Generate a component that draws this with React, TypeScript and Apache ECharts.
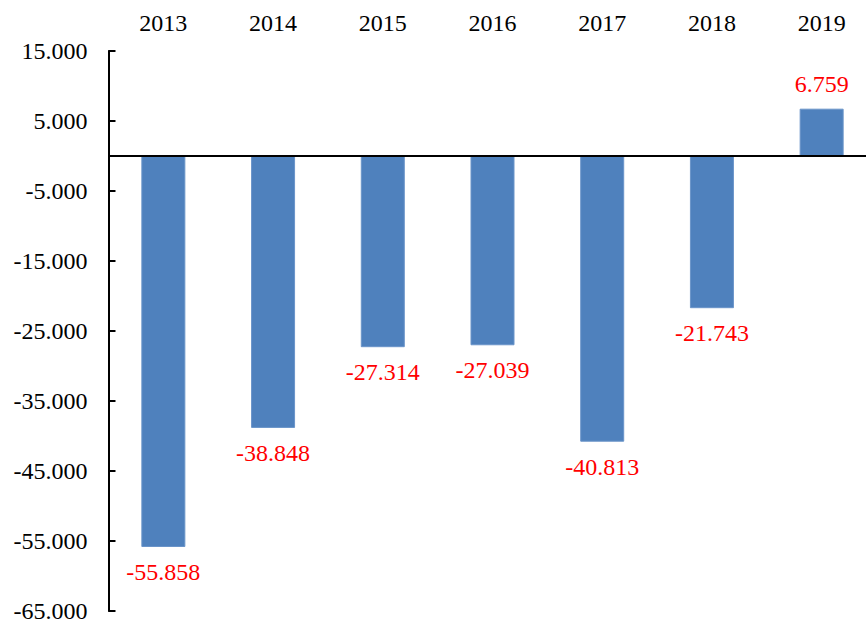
import React, { useEffect, useRef } from "react";
import * as echarts from "echarts";

const categories = ["2013", "2014", "2015", "2016", "2017", "2018", "2019"];
const values = [-55.858, -38.848, -27.314, -27.039, -40.813, -21.743, 6.759];
const yTicks = [-65, -55, -45, -35, -25, -15, -5, 5, 15];

const FONT = "Liberation Serif";

export default function App() {
  const ref = useRef<HTMLDivElement>(null);
  useEffect(() => {
    if (!ref.current) return;
    const chart = echarts.init(ref.current, undefined, { renderer: "svg" });
    chart.setOption({
      animation: false,
      backgroundColor: "#ffffff",
      grid: {
        left: 108.5,
        top: 51,
        width: 768,
        bottom: 13,
        containLabel: false,
        outerBoundsMode: "none",
      },
      xAxis: {
        type: "category",
        data: categories,
        position: "top",
        boundaryGap: true,
        axisLine: { show: false },
        axisTick: { show: false },
        splitLine: { show: false },
        axisLabel: { fontSize: 24, color: "#000", fontFamily: FONT, margin: 16 },
      },
      yAxis: {
        type: "value",
        min: -65,
        max: 15,
        splitLine: { show: false },
        axisLine: { show: true, onZero: false, lineStyle: { color: "#000", width: 2 } },
        axisTick: {
          show: true,
          inside: true,
          length: 7,
          customValues: yTicks,
          lineStyle: { color: "#000", width: 2 },
        },
        axisLabel: {
          customValues: yTicks,
          fontSize: 24,
          color: "#000",
          fontFamily: FONT,
          margin: 21,
          formatter: (v: number) => v.toFixed(3),
        },
      },
      series: [
        {
          type: "bar",
          data: values,
          barWidth: 44,
          itemStyle: { color: "#4F81BD", borderColor: "#6A94C9", borderWidth: 1 },
          label: {
            show: true,
            position: "outside",
            distance: 13,
            fontSize: 24,
            color: "#FF0000",
            fontFamily: FONT,
            formatter: (p: any) => Number(p.value).toFixed(3),
          },
          markLine: {
            silent: true,
            symbol: ["none", "none"],
            label: { show: false },
            lineStyle: { color: "#000", width: 2, type: "solid" },
            data: [{ yAxis: 0 }],
          },
        },
      ],
    });
    return () => chart.dispose();
  }, []);
  return (
    <div
      ref={ref}
      style={{ position: "fixed", left: 0, top: 0, width: 866, height: 624 }}
    />
  );
}
